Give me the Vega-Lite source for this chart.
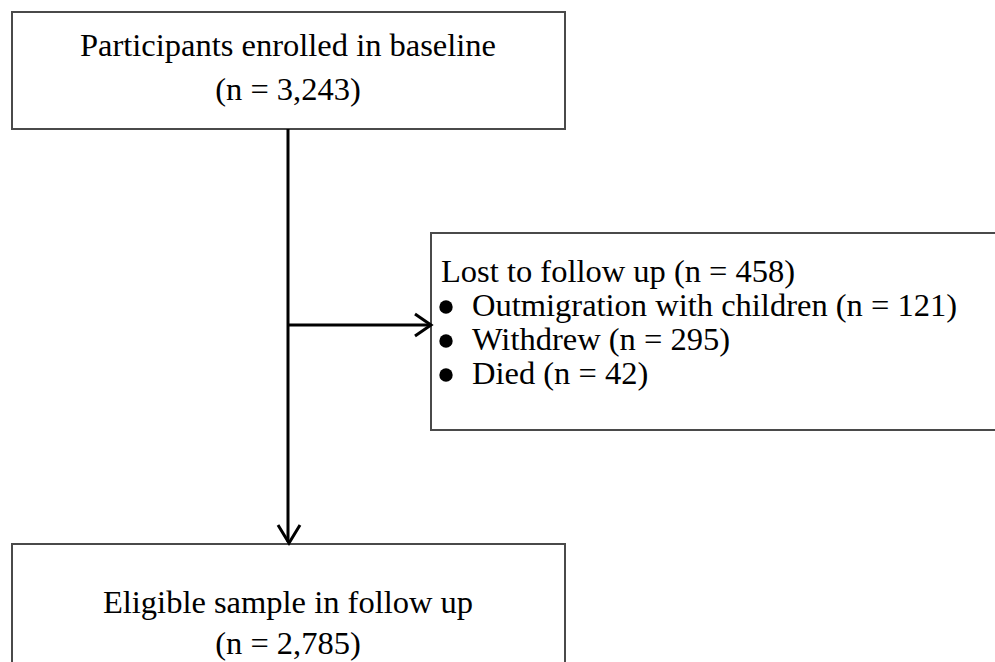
{
  "$schema": "https://vega.github.io/schema/vega-lite/v6.json",
  "width": 995,
  "height": 662,
  "padding": 0,
  "autosize": {"type": "none"},
  "background": "white",
  "config": {"view": {"stroke": null}},
  "datasets": {
    "boxes": [
      {"node": "Participants enrolled in baseline", "x0": 12, "x1": 565, "y0": 12, "y1": 129},
      {"node": "Lost to follow up", "x0": 431, "x1": 1010, "y0": 233, "y1": 430},
      {"node": "Eligible sample in follow up", "x0": 12, "x1": 565, "y0": 544, "y1": 680}
    ],
    "edges": [
      {"edge": "main", "x0": 288, "x1": 288, "y0": 129, "y1": 542},
      {"edge": "branch", "x0": 288, "x1": 430, "y0": 325, "y1": 325}
    ],
    "heads": [
      {"head": "down", "i": 0, "x": 278, "y": 525},
      {"head": "down", "i": 1, "x": 289, "y": 543},
      {"head": "down", "i": 2, "x": 300, "y": 525},
      {"head": "right", "i": 0, "x": 415, "y": 314},
      {"head": "right", "i": 1, "x": 431, "y": 325},
      {"head": "right", "i": 2, "x": 415, "y": 336}
    ],
    "centered": [
      {"label": "Participants enrolled in baseline", "x": 288, "y": 46},
      {"label": "(n = 3,243)", "x": 288, "y": 90},
      {"label": "Eligible sample in follow up", "x": 288, "y": 603},
      {"label": "(n = 2,785)", "x": 288, "y": 644}
    ],
    "lefttext": [
      {"label": "Lost to follow up (n = 458)", "x": 441, "y": 272},
      {"label": "Outmigration with children (n = 121)", "x": 472, "y": 306},
      {"label": "Withdrew (n = 295)", "x": 472, "y": 340},
      {"label": "Died (n = 42)", "x": 472, "y": 374}
    ],
    "bullets": [
      {"item": "Outmigration with children", "n": 121, "x": 446, "y": 307},
      {"item": "Withdrew", "n": 295, "x": 446, "y": 341},
      {"item": "Died", "n": 42, "x": 446, "y": 375}
    ]
  },
  "layer": [
    {
      "data": {"name": "boxes"},
      "mark": {"type": "rect", "fill": "white", "stroke": "#4a4a4a", "strokeWidth": 2, "clip": true},
      "encoding": {
        "x": {"field": "x0", "type": "quantitative", "scale": {"domain": [0, 995], "nice": false, "zero": false}, "axis": null},
        "x2": {"field": "x1"},
        "y": {"field": "y0", "type": "quantitative", "scale": {"domain": [0, 662], "nice": false, "zero": false, "reverse": true}, "axis": null},
        "y2": {"field": "y1"}
      }
    },
    {
      "data": {"name": "edges"},
      "mark": {"type": "rule", "stroke": "black", "strokeWidth": 3},
      "encoding": {
        "x": {"field": "x0", "type": "quantitative"},
        "x2": {"field": "x1"},
        "y": {"field": "y0", "type": "quantitative"},
        "y2": {"field": "y1"}
      }
    },
    {
      "data": {"name": "heads"},
      "mark": {"type": "line", "stroke": "black", "strokeWidth": 3, "strokeJoin": "miter"},
      "encoding": {
        "x": {"field": "x", "type": "quantitative"},
        "y": {"field": "y", "type": "quantitative"},
        "detail": {"field": "head"},
        "order": {"field": "i"}
      }
    },
    {
      "data": {"name": "bullets"},
      "mark": {"type": "point", "shape": "circle", "filled": true, "fill": "black", "size": 180, "opacity": 1},
      "encoding": {
        "x": {"field": "x", "type": "quantitative"},
        "y": {"field": "y", "type": "quantitative"}
      }
    },
    {
      "data": {"name": "centered"},
      "mark": {"type": "text", "align": "center", "baseline": "middle", "font": "Liberation Serif", "fontSize": 32.5, "fill": "black"},
      "encoding": {
        "x": {"field": "x", "type": "quantitative"},
        "y": {"field": "y", "type": "quantitative"},
        "text": {"field": "label"}
      }
    },
    {
      "data": {"name": "lefttext"},
      "mark": {"type": "text", "align": "left", "baseline": "middle", "font": "Liberation Serif", "fontSize": 32.5, "fill": "black"},
      "encoding": {
        "x": {"field": "x", "type": "quantitative"},
        "y": {"field": "y", "type": "quantitative"},
        "text": {"field": "label"}
      }
    }
  ]
}
